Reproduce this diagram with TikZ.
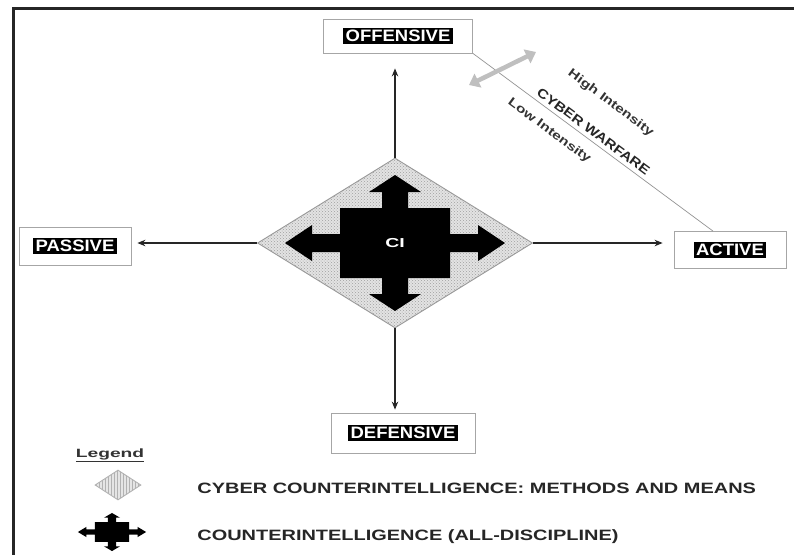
\documentclass[tikz,border=0pt]{standalone}
\usepackage{fontspec}
\setmainfont{Liberation Sans}
\usepackage{graphicx}
\usepackage{tikz}
\usetikzlibrary{shapes.geometric,arrows.meta,patterns}

% black tag with white letters, as used inside the four boxes
\newcommand{\boxtag}[1]{{\setlength{\fboxsep}{2.5pt}\colorbox{black}{\textcolor{white}{\scalebox{1.12}[1]{\bfseries #1}}}}}
\newcommand{\wide}[2]{\scalebox{#1}[1]{#2}}

\tikzset{pics/ciarrows/.style={code={
  \fill[black] (0,-68) -- (26,-51) -- (13,-51) -- (13,-35) -- (55,-35) -- (55,-9)
    -- (83,-9) -- (83,-18) -- (110,0) -- (83,18) -- (83,9) -- (55,9) -- (55,35)
    -- (13,35) -- (13,51) -- (26,51) -- (0,68) -- (-26,51) -- (-13,51) -- (-13,35)
    -- (-55,35) -- (-55,9) -- (-83,9) -- (-83,18) -- (-110,0) -- (-83,-18)
    -- (-83,-9) -- (-55,-9) -- (-55,-35) -- (-13,-35) -- (-13,-51) -- (-26,-51) -- cycle;
}}}

\begin{document}
\begin{tikzpicture}[x=1pt,y=-1pt,thick]
    % `box' is used for the four boxes round the diamond.
    % `axis' is used for the four arrows leaving the diamond.
    % `means' is the dotted diamond, `legmeans' its small legend copy.
    \tikzstyle{box} = [draw=gray!70,line width=0.8pt,fill=white,inner sep=0pt,font=\fontsize{16.5}{19}\selectfont]
    \tikzstyle{axis} = [draw=black!85,line width=1.3pt,-{Stealth[length=8pt,width=6.5pt]}]
    \tikzstyle{means} = [shape=diamond,draw=gray!80,line width=0.9pt,fill=gray!22,
        postaction={pattern=crosshatch dots,pattern color=gray!75},inner sep=0pt]
    \tikzstyle{legmeans} = [shape=diamond,draw=gray!60,line width=0.9pt,fill=gray!20,
        postaction={pattern=vertical lines,pattern color=gray!60},inner sep=0pt]
    \tikzstyle{legtext} = [anchor=west,inner sep=0pt,font=\fontsize{15}{18}\selectfont\bfseries,text=black!85]
    \useasboundingbox (0,0) rectangle (794,555);
    %
    % frame
    \draw[line width=3pt,gray!30!black] (794,8) -- (13,8) -- (13,555);
    %
    \node[means,minimum width=275pt,minimum height=170pt] (ccm) at (395,243) {};
    \pic at (395,243) {ciarrows};
    \node[text=white,font=\fontsize{13}{15}\selectfont\bfseries] (ci) at (395,243) {\wide{1.5}{CI}};
    %
    \node[box,minimum width=149pt,minimum height=34pt] (off) at (398,36) {\boxtag{OFFENSIVE}};
    \node[box,minimum width=112pt,minimum height=38pt] (pas) at (75,246) {\boxtag{PASSIVE}};
    \node[box,minimum width=112pt,minimum height=37pt] (act) at (730,250) {\boxtag{ACTIVE}};
    \node[box,minimum width=144pt,minimum height=40pt] (def) at (403,433) {\boxtag{DEFENSIVE}};
    %
    \draw[axis,shorten >=15pt] (ccm.north) -- (ccm.north |- off.south);
    \draw[axis,shorten >=6pt] (ccm.west) -- (ccm.west -| pas.east);
    \draw[axis,shorten >=11pt] (ccm.east) -- (ccm.east -| act.west);
    \draw[axis,shorten >=3pt] (ccm.south) -- (ccm.south |- def.north);
    %
    % cyber warfare line and its intensity arrow
    \draw[gray!85,line width=0.7pt] (off.south east) --
        node[sloped,pos=0.47,above=36pt,inner sep=0pt,font=\fontsize{12}{14}\selectfont\bfseries,text=black!80] (high) {\wide{1.3}{High Intensity}}
        node[sloped,pos=0.48,above=4pt,inner sep=0pt,font=\fontsize{13}{15}\selectfont\bfseries,text=black!85] (war) {\wide{1.2}{CYBER WARFARE}}
        node[sloped,pos=0.36,below=11pt,inner sep=0pt,font=\fontsize{12}{14}\selectfont\bfseries,text=black!80] (low) {\wide{1.3}{Low Intensity}}
        ([xshift=-17pt]act.north);
    \coordinate (lo) at (469,85);
    \coordinate (hi) at (536,52);
    \draw[gray!50,line width=4.5pt,{Triangle[length=10pt,width=15pt]}-{Triangle[length=10pt,width=15pt]}] (lo) -- (hi);
    %
    % legend
    \node[inner sep=0pt,font=\fontsize{12}{14}\selectfont\bfseries,text=black!80] (leg) at (110,455) {\wide{1.6}{\underline{Legend}}};
    \node[legmeans,minimum width=46pt,minimum height=30pt] (legccm) at (118,485) {};
    \pic[xscale=0.31,yscale=0.28] at (112,532) {ciarrows};
    \node[legtext] (txtccm) at (197,488) {\wide{1.33}{CYBER COUNTERINTELLIGENCE: METHODS AND MEANS}};
    \node[legtext] (txtci) at (197,537) {\wide{1.33}{COUNTERINTELLIGENCE (ALL-DISCIPLINE)}};
\end{tikzpicture}
\end{document}
